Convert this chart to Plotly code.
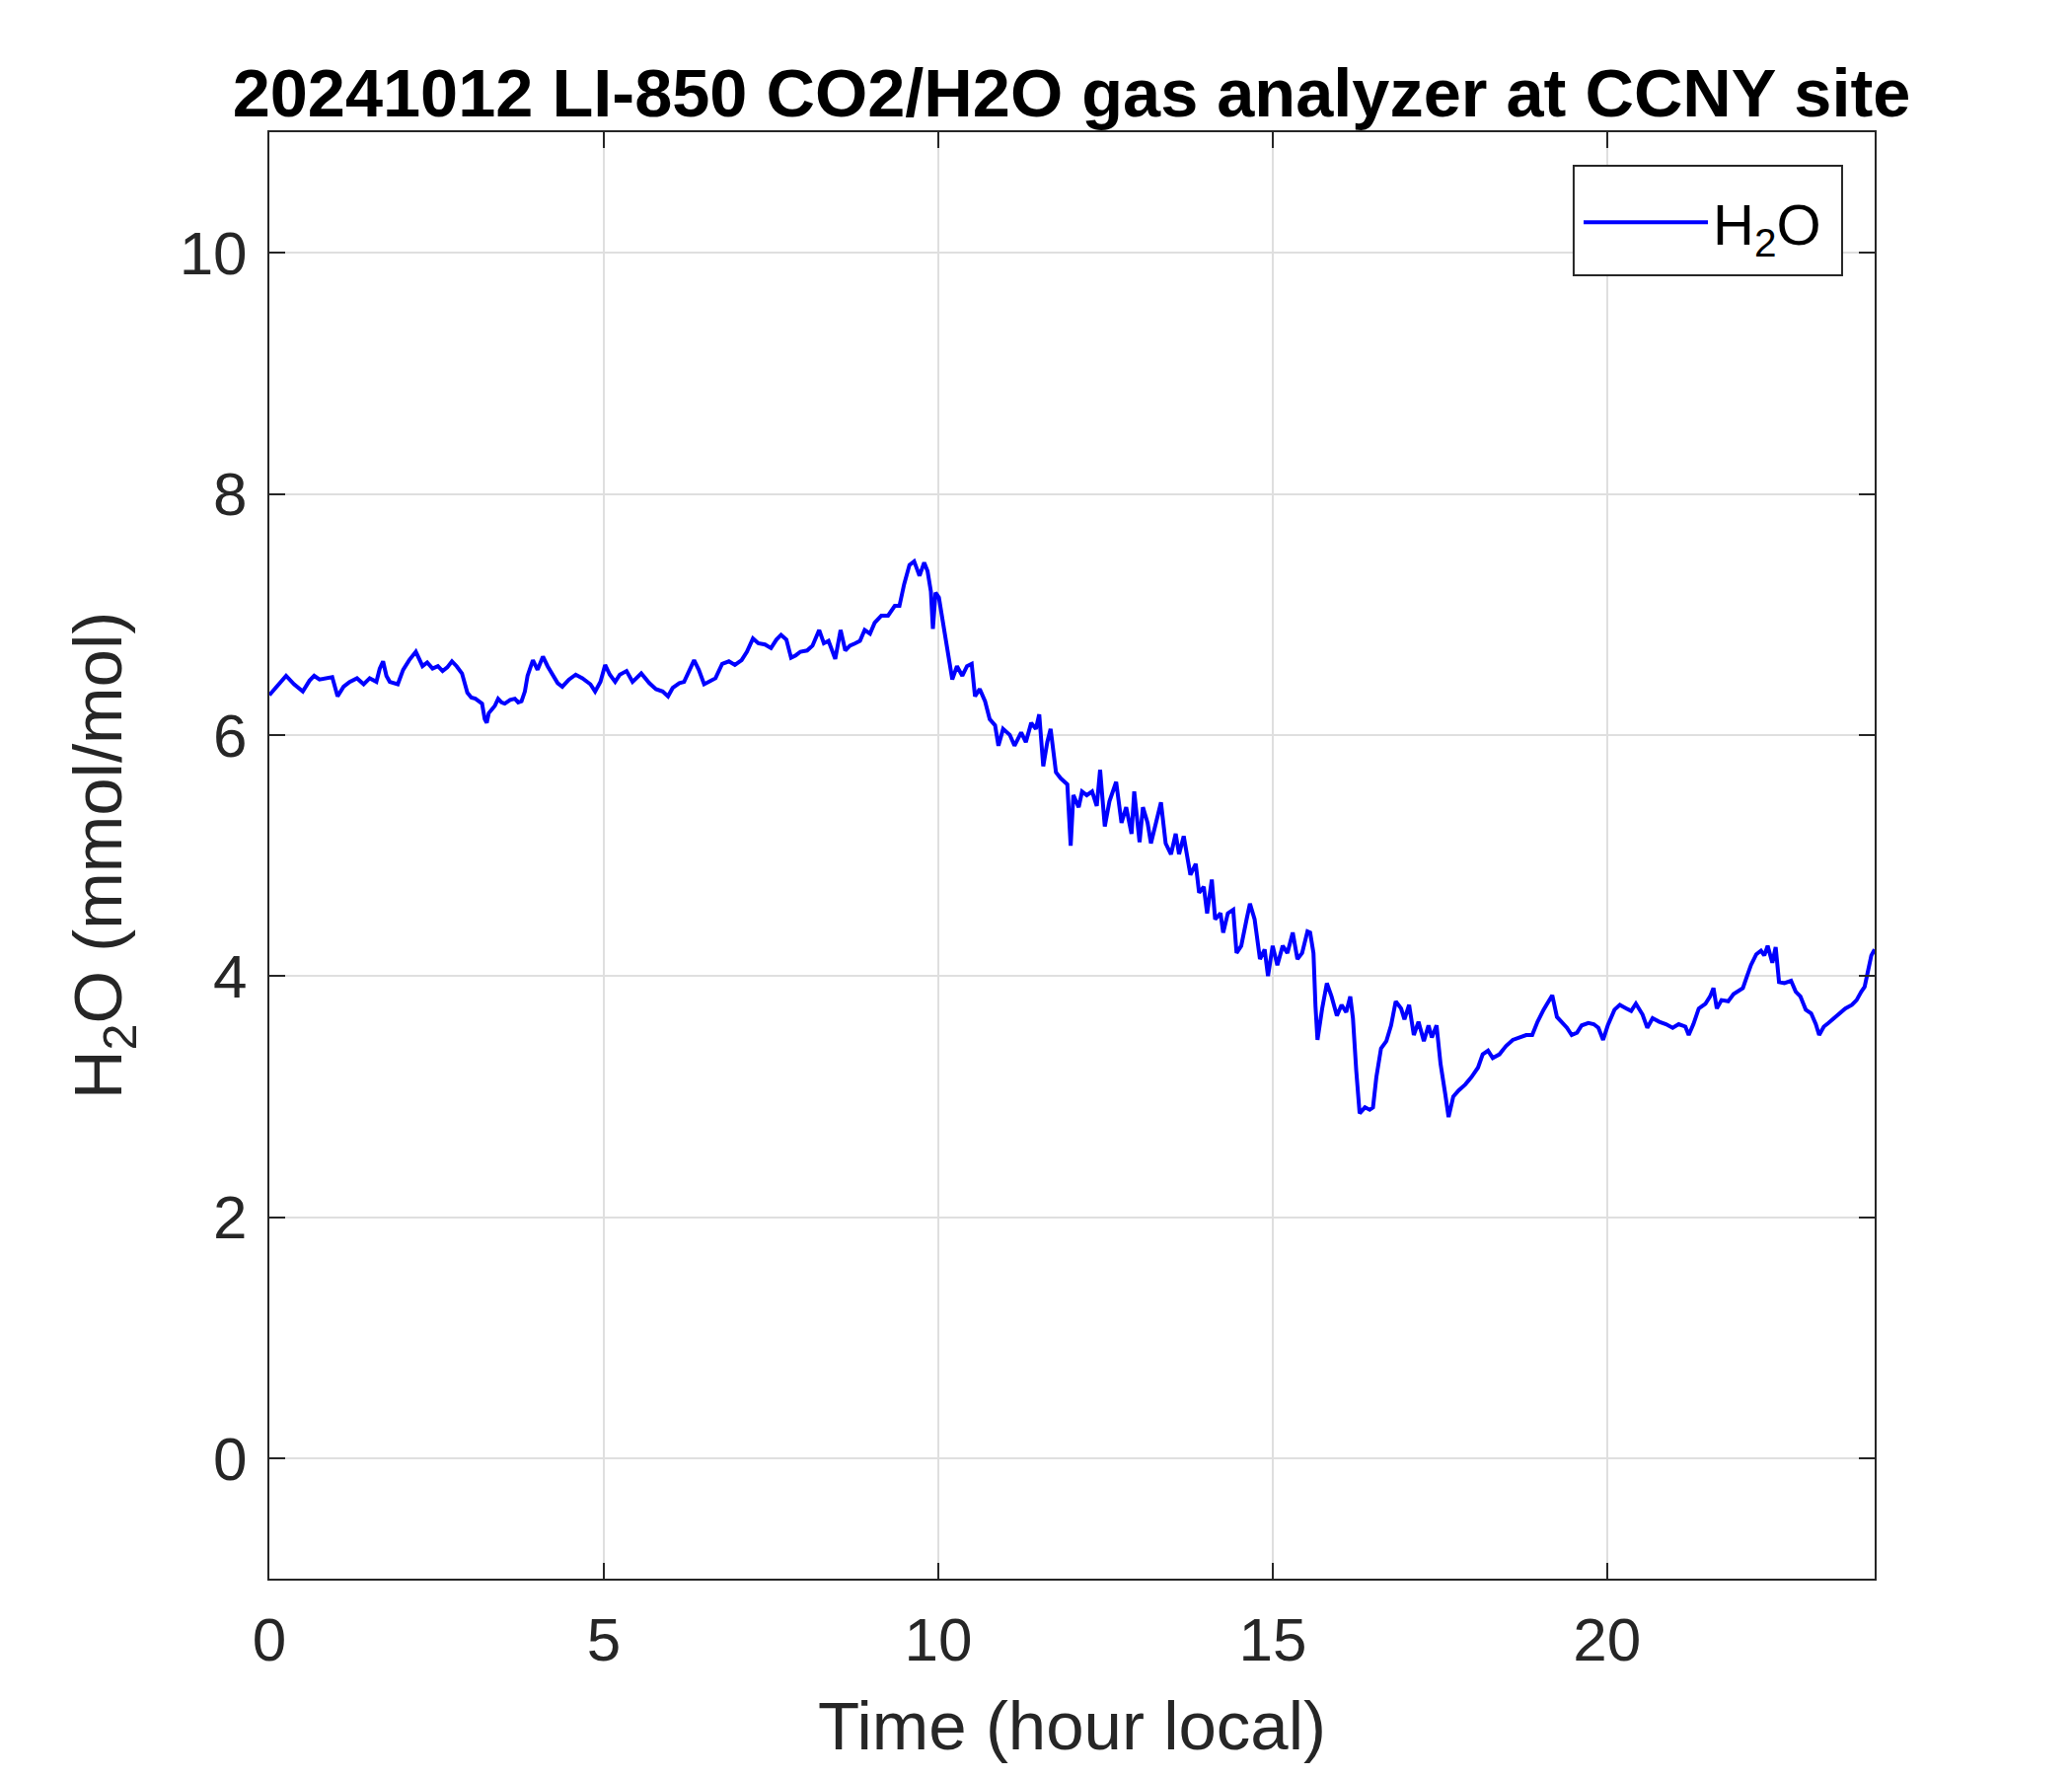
import plotly.graph_objects as go

# ---- data (time in local hours, H2O in mmol/mol) ----
hours = [
    0.00, 0.08, 0.15, 0.25, 0.37, 0.50, 0.60, 0.67, 0.75, 0.82, 0.94, 1.02, 1.11, 1.20, 1.31,
    1.41, 1.50, 1.60, 1.65, 1.70, 1.75, 1.80, 1.92, 2.00, 2.09, 2.19, 2.29, 2.36, 2.44, 2.52,
    2.59, 2.66, 2.73, 2.80, 2.88, 2.96, 3.02, 3.08, 3.14, 3.18, 3.22, 3.25, 3.28, 3.32, 3.37,
    3.42, 3.47, 3.52, 3.60, 3.67, 3.72, 3.77, 3.82, 3.86, 3.90, 3.94, 4.01, 4.09, 4.16, 4.23,
    4.31, 4.38, 4.48, 4.58, 4.68, 4.80, 4.87, 4.95, 5.02, 5.09, 5.17, 5.24, 5.34, 5.43, 5.56,
    5.68, 5.78, 5.88, 5.96, 6.03, 6.13, 6.20, 6.28, 6.35, 6.42, 6.50, 6.57, 6.67, 6.77, 6.87,
    6.96, 7.06, 7.14, 7.23, 7.31, 7.41, 7.50, 7.58, 7.65, 7.73, 7.80, 7.87, 7.94, 8.04, 8.12,
    8.22, 8.29, 8.36, 8.46, 8.54, 8.61, 8.68, 8.76, 8.83, 8.90, 8.98, 9.05, 9.15, 9.25, 9.35,
    9.42, 9.49, 9.57, 9.64, 9.72, 9.79, 9.84, 9.89, 9.92, 9.96, 10.01, 10.06, 10.11, 10.16, 10.21,
    10.28, 10.36, 10.43, 10.50, 10.55, 10.62, 10.70, 10.77, 10.85, 10.90, 10.97, 11.07, 11.14, 11.24, 11.31,
    11.39, 11.46, 11.51, 11.57, 11.63, 11.68, 11.76, 11.83, 11.90, 11.93, 11.98, 12.02, 12.10, 12.15, 12.22,
    12.30, 12.37, 12.42, 12.49, 12.56, 12.66, 12.74, 12.81, 12.89, 12.93, 13.01, 13.06, 13.13, 13.18, 13.25,
    13.33, 13.40, 13.48, 13.55, 13.60, 13.67, 13.72, 13.77, 13.85, 13.90, 13.97, 14.02, 14.09, 14.14, 14.22,
    14.26, 14.33, 14.41, 14.46, 14.53, 14.61, 14.66, 14.73, 14.81, 14.88, 14.93, 15.00, 15.07, 15.15, 15.22,
    15.30, 15.37, 15.44, 15.52, 15.56, 15.61, 15.64, 15.67, 15.74, 15.81, 15.88, 15.96, 16.03, 16.10, 16.16,
    16.20, 16.25, 16.30, 16.38, 16.45, 16.50, 16.55, 16.62, 16.70, 16.77, 16.84, 16.92, 16.97, 17.04, 17.11,
    17.18, 17.26, 17.33, 17.38, 17.45, 17.51, 17.58, 17.63, 17.70, 17.78, 17.88, 17.97, 18.07, 18.14, 18.22,
    18.29, 18.39, 18.49, 18.59, 18.69, 18.79, 18.88, 18.96, 19.05, 19.13, 19.18, 19.25, 19.33, 19.40, 19.47,
    19.55, 19.62, 19.72, 19.80, 19.87, 19.94, 20.01, 20.11, 20.19, 20.29, 20.36, 20.43, 20.53, 20.60, 20.68,
    20.78, 20.88, 20.98, 21.07, 21.17, 21.22, 21.29, 21.37, 21.47, 21.54, 21.59, 21.64, 21.71, 21.81, 21.89,
    21.96, 22.03, 22.08, 22.15, 22.23, 22.30, 22.35, 22.40, 22.47, 22.52, 22.57, 22.65, 22.75, 22.82, 22.89,
    22.97, 23.05, 23.12, 23.17, 23.24, 23.31, 23.41, 23.48, 23.56, 23.66, 23.73, 23.80, 23.85, 23.90, 23.95,
    24.00,
]
h2o = [
    6.33, 6.38, 6.43, 6.49, 6.42, 6.36, 6.45, 6.49, 6.46, 6.47, 6.48, 6.32, 6.40, 6.44, 6.47,
    6.42, 6.47, 6.44, 6.55, 6.61, 6.49, 6.44, 6.42, 6.54, 6.62, 6.69, 6.57, 6.60, 6.55, 6.57,
    6.53, 6.56, 6.61, 6.57, 6.51, 6.35, 6.31, 6.30, 6.27, 6.26, 6.13, 6.10, 6.18, 6.21, 6.24,
    6.30, 6.27, 6.26, 6.29, 6.30, 6.27, 6.28, 6.36, 6.49, 6.56, 6.62, 6.54, 6.65, 6.57, 6.51,
    6.43, 6.40, 6.46, 6.50, 6.47, 6.42, 6.36, 6.44, 6.58, 6.50, 6.44, 6.50, 6.53, 6.44, 6.51,
    6.43, 6.38, 6.36, 6.32, 6.39, 6.43, 6.44, 6.54, 6.62, 6.54, 6.42, 6.44, 6.47, 6.59, 6.61,
    6.58, 6.62, 6.69, 6.80, 6.76, 6.75, 6.72, 6.79, 6.83, 6.79, 6.64, 6.66, 6.69, 6.70, 6.74,
    6.87, 6.76, 6.78, 6.63, 6.87, 6.70, 6.74, 6.76, 6.78, 6.87, 6.84, 6.93, 6.99, 6.99, 7.07,
    7.07, 7.25, 7.41, 7.44, 7.32, 7.43, 7.36, 7.19, 6.88, 7.18, 7.14, 6.96, 6.80, 6.59, 6.46,
    6.57, 6.49, 6.57, 6.59, 6.32, 6.38, 6.28, 6.13, 6.08, 5.91, 6.05, 6.00, 5.91, 6.02, 5.94,
    6.10, 6.05, 6.17, 5.74, 5.94, 6.05, 5.69, 5.64, 5.60, 5.59, 5.08, 5.50, 5.40, 5.53, 5.50,
    5.53, 5.41, 5.71, 5.24, 5.45, 5.61, 5.27, 5.40, 5.18, 5.53, 5.11, 5.40, 5.27, 5.10, 5.26,
    5.44, 5.10, 5.01, 5.18, 5.01, 5.16, 5.01, 4.84, 4.93, 4.69, 4.74, 4.52, 4.80, 4.47, 4.52,
    4.36, 4.52, 4.55, 4.19, 4.25, 4.47, 4.60, 4.47, 4.14, 4.22, 4.00, 4.25, 4.09, 4.25, 4.19,
    4.36, 4.14, 4.19, 4.37, 4.36, 4.19, 3.75, 3.47, 3.73, 3.94, 3.83, 3.67, 3.76, 3.70, 3.83,
    3.65, 3.21, 2.86, 2.91, 2.89, 2.91, 3.16, 3.40, 3.46, 3.59, 3.79, 3.73, 3.64, 3.76, 3.51,
    3.62, 3.46, 3.59, 3.49, 3.59, 3.27, 3.02, 2.83, 3.00, 3.05, 3.10, 3.16, 3.24, 3.35, 3.38,
    3.32, 3.35, 3.42, 3.47, 3.49, 3.51, 3.51, 3.62, 3.72, 3.79, 3.84, 3.66, 3.61, 3.57, 3.51,
    3.53, 3.59, 3.61, 3.60, 3.57, 3.47, 3.59, 3.72, 3.76, 3.73, 3.71, 3.77, 3.68, 3.57, 3.65,
    3.62, 3.60, 3.57, 3.60, 3.58, 3.51, 3.60, 3.73, 3.77, 3.83, 3.90, 3.73, 3.80, 3.79, 3.85,
    3.88, 3.90, 3.98, 4.09, 4.18, 4.21, 4.17, 4.25, 4.11, 4.24, 3.95, 3.94, 3.96, 3.87, 3.83,
    3.72, 3.69, 3.60, 3.51, 3.58, 3.61, 3.66, 3.69, 3.73, 3.76, 3.80, 3.87, 3.91, 4.04, 4.17,
    4.22,
]

x_ticks = [0, 5, 10, 15, 20]
y_ticks = [0, 2, 4, 6, 8, 10]
x_range = [0, 24]
y_range = [-1, 11]

title_text = "20241012 LI-850 CO2/H2O gas analyzer at CCNY site"
x_label = "Time (hour local)"
y_label = "H<sub>2</sub>O (mmol/mol)"
series_name = "H<sub>2</sub>O"

FONT = "Liberation Sans, Arial, Helvetica, sans-serif"
AXIS_COLOR = "rgb(38,38,38)"
GRID_COLOR = "rgb(223,223,223)"

fig = go.Figure()
fig.add_trace(go.Scatter(
    x=hours, y=h2o, mode="lines", name=series_name,
    line=dict(color="#0000ff", width=4),
))

axis_common = dict(
    showline=True, linecolor=AXIS_COLOR, linewidth=2, mirror="allticks",
    ticks="inside", ticklen=16, tickwidth=2, tickcolor=AXIS_COLOR,
    showgrid=True, gridcolor=GRID_COLOR, gridwidth=2, zeroline=False,
    tickfont=dict(family=FONT, size=62, color=AXIS_COLOR),
    title_font=dict(family=FONT, size=69, color=AXIS_COLOR),
)

fig.update_xaxes(range=x_range, tickvals=x_ticks, ticklabelstandoff=7,
                 title=dict(text=x_label, standoff=29), **axis_common)
fig.update_yaxes(range=y_range, tickvals=y_ticks, ticklabelstandoff=8,
                 title=dict(text=y_label, standoff=35), **axis_common)

# legend frame (opaque box, as in the reference)
fig.add_shape(type="rect", xref="paper", yref="paper",
              x0=0.8125, x1=0.9797, y0=0.9011, y1=0.9768,
              line=dict(color=AXIS_COLOR, width=2), fillcolor="white", layer="above")

fig.update_layout(
    width=2100, height=1800,
    paper_bgcolor="white", plot_bgcolor="white",
    margin=dict(l=265, r=208, t=126, b=208, autoexpand=False),
    title=dict(text="<b>" + title_text + "</b>", x=1078 / 2100, xanchor="center",
               y=1 - 86 / 1800, yanchor="middle",
               font=dict(family=FONT, size=68.5, color="black")),
    showlegend=True,
    legend=dict(x=1592 / 2100, xref="container", xanchor="left",
                y=1 - 173 / 1800, yref="container", yanchor="top",
                borderwidth=0, bgcolor="rgba(0,0,0,0)",
                font=dict(family=FONT, size=58, color="black"),
                itemwidth=126),
)

fig.write_html("out.html")
